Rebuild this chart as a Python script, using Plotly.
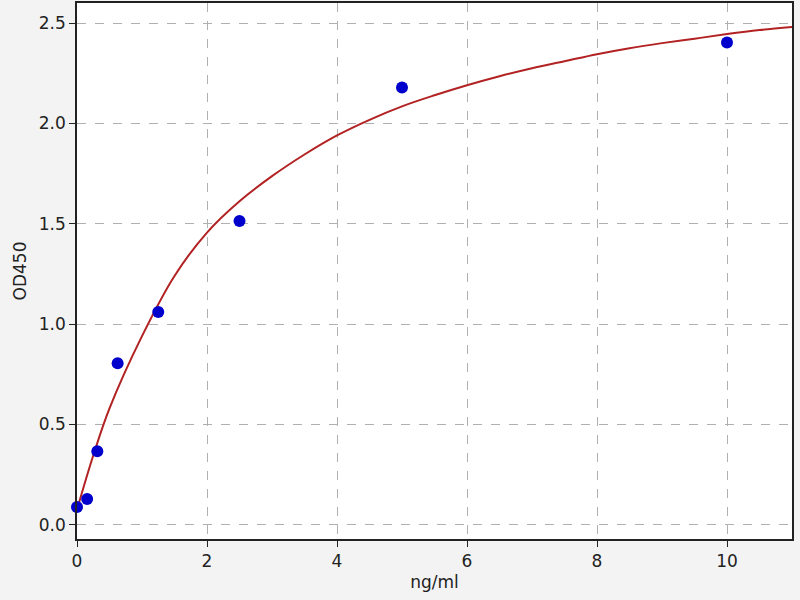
import plotly.graph_objects as go

# standard points (concentration vs OD)
conc = [0, 0.156, 0.3125, 0.625, 1.25, 2.5, 5, 10]
od450 = [0.089, 0.128, 0.366, 0.805, 1.06, 1.514, 2.179, 2.403]

# fitted curve
fit_x = [0, 0.25, 0.5, 1.0, 1.5, 2.0, 2.5, 3.0, 3.5, 4.0, 4.5, 5.0, 5.5, 6.0,
         6.5, 7.0, 7.5, 8.0, 8.5, 9.0, 9.5, 10.0, 10.5, 11.0]
fit_y = [0.075, 0.345, 0.58, 0.94, 1.24, 1.456, 1.612, 1.737, 1.845, 1.94, 2.018, 2.085, 2.14, 2.19,
         2.235, 2.275, 2.31, 2.345, 2.375, 2.40, 2.422, 2.445, 2.465, 2.48]

fig = go.Figure()

fig.add_trace(go.Scatter(
    x=fit_x, y=fit_y,
    mode="lines",
    line=dict(color="#b22222", width=2, shape="spline"),
    showlegend=False,
))

fig.add_trace(go.Scatter(
    x=conc, y=od450,
    mode="markers",
    marker=dict(color="#0000cc", size=12),
    showlegend=False,
    cliponaxis=False,
))

axis_style = dict(
    showline=True, mirror=True, linecolor="#222222", linewidth=1.5,
    ticks="outside", ticklen=6, tickwidth=1.2, tickcolor="#222222",
    showgrid=True, gridcolor="#b0b0b0", griddash="dash", gridwidth=1,
    zeroline=False,
    tickfont=dict(family="DejaVu Sans", size=17, color="#222222"),
)

fig.update_xaxes(
    range=[0, 11], tickvals=[0, 2, 4, 6, 8, 10],
    title=dict(text="ng/ml", font=dict(family="DejaVu Sans", size=17, color="#222222"), standoff=6),
    **axis_style,
)
fig.update_yaxes(
    range=[-0.071, 2.60], tickvals=[0, 0.5, 1.0, 1.5, 2.0, 2.5], tickformat=".1f",
    title=dict(text="OD450", font=dict(family="DejaVu Sans", size=17, color="#222222"), standoff=8),
    **axis_style,
)

fig.update_layout(
    width=800, height=600,
    margin=dict(l=77, r=8, t=1, b=61),
    paper_bgcolor="#f3f3f3",
    plot_bgcolor="white",
)

# drop the page's default body margin so the figure sits at the window corner
fig.write_html("out.html", config={"displayModeBar": False},
               post_script="document.body.style.margin='0';")
